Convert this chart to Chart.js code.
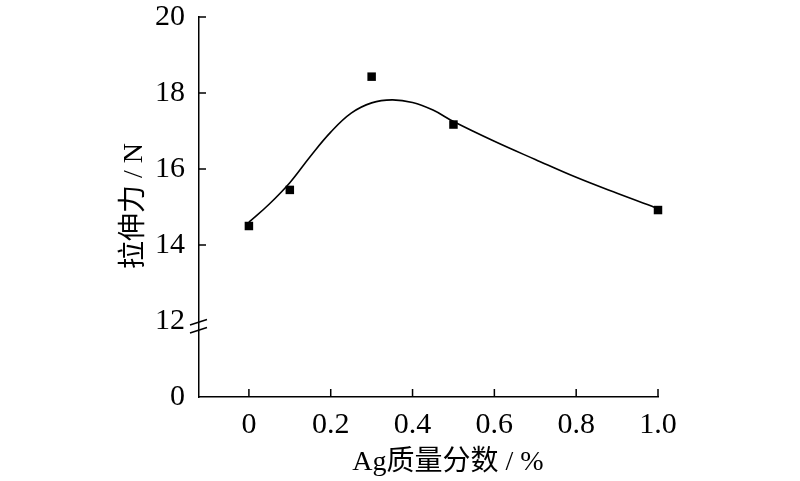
<!DOCTYPE html>
<html>
<head>
<meta charset="utf-8">
<script src="https://cdn.jsdelivr.net/npm/chart.js@4"></script>
<style>
    html, body { margin: 0; padding: 0; background: #fff; }
    #box { width: 800px; height: 481px; position: relative; }
</style>
</head>
<body>
<div id="box"><canvas id="grafico"></canvas></div>
<script>
// valores
const agPontos = [0, 0.1, 0.3, 0.5, 1.0];
const forcaPontos = [14.5, 15.45, 18.43, 17.17, 14.92];

// curva ajustada (lida ponto a ponto da figura)
const agCurva = [0, 0.05, 0.1, 0.15, 0.2, 0.25, 0.3, 0.35, 0.4, 0.45, 0.5, 0.6, 0.7, 0.8, 0.9, 1.0];
const forcaCurva = [14.6, 15.08, 15.64, 16.33, 16.97, 17.47, 17.74, 17.82, 17.75, 17.55, 17.25, 16.73, 16.25, 15.78, 15.36, 14.96];

const ticksX = [0, 0.2, 0.4, 0.6, 0.8, 1.0];
const ticksY = [12, 14, 16, 18, 20];
// eixo quebrado: o valor 0 fica desenhado na posição 10
const zeroQuebrado = 10;

const fonteNum = '"Liberation Serif", "Times New Roman", serif';
const fonteTitulo = '"Liberation Serif", "Noto Sans CJK SC", serif';

const marcas = {
    id: 'marcas',
    afterDraw(chart) {
        const ctx = chart.ctx;
        const x = chart.scales.x;
        const y = chart.scales.y;
        const area = chart.chartArea;
        ctx.save();
        ctx.strokeStyle = '#000';
        ctx.lineWidth = 1.5;
        // ticks para dentro
        ctx.beginPath();
        ticksX.forEach(v => {
            const px = x.getPixelForValue(v);
            ctx.moveTo(px, area.bottom);
            ctx.lineTo(px, area.bottom - 8);
        });
        ticksY.filter(v => v !== 12).forEach(v => {
            const py = y.getPixelForValue(v);
            ctx.moveTo(area.left, py);
            ctx.lineTo(area.left + 7, py);
        });
        ctx.stroke();
        // sinal de quebra no 12
        const pb = y.getPixelForValue(12) + 2.5;
        ctx.beginPath();
        ctx.moveTo(area.left - 9, pb + 1.5);
        ctx.lineTo(area.left + 8, pb - 4);
        ctx.moveTo(area.left - 9, pb + 9.5);
        ctx.lineTo(area.left + 8, pb + 4);
        ctx.stroke();
        // títulos
        ctx.fillStyle = '#000';
        ctx.font = '28px ' + fonteTitulo;
        ctx.textAlign = 'center';
        ctx.textBaseline = 'middle';
        ctx.fillText('Ag质量分数 / %', 448, 463);
        ctx.translate(135, 206);
        ctx.rotate(-Math.PI / 2);
        ctx.fillText('拉伸力 / N', 0, 0);
        ctx.restore();
    }
};

const canva = document.getElementById('grafico').getContext('2d');
const grafico = new Chart(canva, {
    type: 'scatter',
    data: {
        datasets: [{
            label: 'pontos',
            data: agPontos.map((v, i) => ({ x: v, y: forcaPontos[i] })),
            pointStyle: 'rect',
            pointRadius: 6,
            backgroundColor: '#000',
            borderColor: '#000',
            borderWidth: 0,
            clip: false,
            order: 1
        }, {
            label: 'curva',
            data: agCurva.map((v, i) => ({ x: v, y: forcaCurva[i] })),
            showLine: true,
            pointRadius: 0,
            borderColor: '#000',
            borderWidth: 1.6,
            tension: 0.4,
            clip: false,
            order: 2
        }]
    },
    options: {
        responsive: true,
        maintainAspectRatio: false,
        animation: false,
        layout: { padding: { top: 17, right: 142, left: 0, bottom: 0 } },
        plugins: {
            legend: { display: false },
            tooltip: { enabled: false }
        },
        scales: {
            x: {
                type: 'linear',
                min: -0.122,
                max: 1.0,
                afterFit: s => {
                    s.height = 84;
                    s.paddingLeft = 0;
                    s.paddingRight = 0;
                },
                grid: { display: false, drawTicks: false },
                border: { color: '#000', width: 1.5 },
                ticks: {
                    stepSize: 0.2,
                    includeBounds: false,
                    padding: 10,
                    color: '#000',
                    font: { family: fonteNum, size: 30 },
                    maxRotation: 0,
                    callback: v => Math.abs(v) < 1e-9 ? '0' : v.toFixed(1)
                },
                afterBuildTicks: s => { s.ticks = ticksX.map(v => ({ value: v })); }
            },
            y: {
                min: zeroQuebrado,
                max: 20,
                afterFit: s => {
                    s.width = 199;
                    s.paddingTop = 0;
                    s.paddingBottom = 0;
                },
                grid: { display: false, drawTicks: false },
                border: { color: '#000', width: 1.5 },
                ticks: {
                    stepSize: 2,
                    padding: 14,
                    color: '#000',
                    font: { family: fonteNum, size: 30 },
                    callback: v => v === zeroQuebrado ? '0' : String(v)
                }
            }
        }
    },
    plugins: [marcas]
});
</script>
</body>
</html>
